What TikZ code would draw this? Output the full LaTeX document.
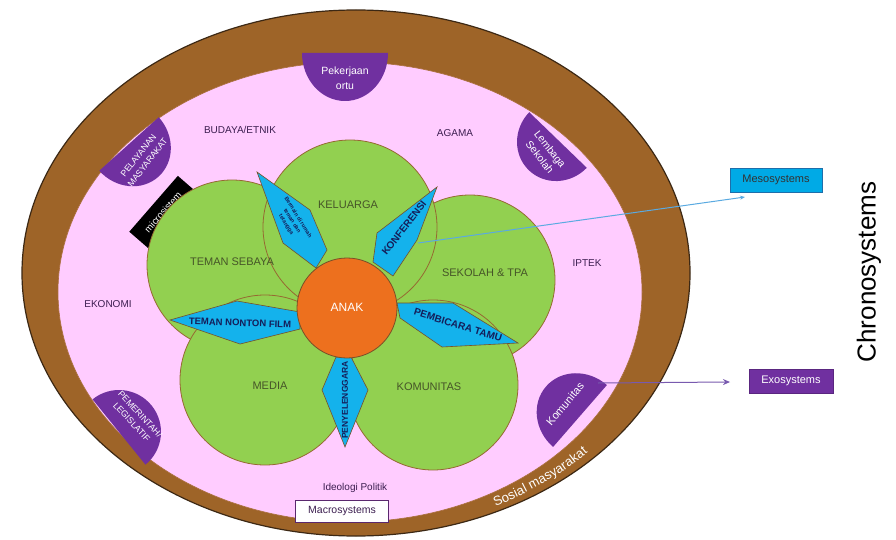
\documentclass[tikz,border=0pt]{standalone}
\usepackage{fontspec}
\setmainfont{Liberation Sans}
\usetikzlibrary{calc,arrows.meta,decorations.text}
\definecolor{brownband}{RGB}{158,100,40}
\definecolor{outerline}{RGB}{60,40,20}
\definecolor{pinkbg}{RGB}{255,204,255}
\definecolor{pinkline}{RGB}{170,110,60}
\definecolor{greenfill}{RGB}{146,208,80}
\definecolor{greenline}{RGB}{150,105,50}
\definecolor{orangefill}{RGB}{237,112,30}
\definecolor{petalblue}{RGB}{20,178,236}
\definecolor{petalline}{RGB}{120,80,40}
\definecolor{tabpurple}{RGB}{112,48,160}
\definecolor{labtext}{RGB}{60,30,80}
\definecolor{circtext}{RGB}{70,85,40}
\definecolor{petaltext}{RGB}{20,30,90}
\definecolor{mesofill}{RGB}{0,170,230}
\definecolor{mesoline}{RGB}{30,110,170}
\definecolor{mesoarrow}{RGB}{90,170,225}
\definecolor{exoarrow}{RGB}{120,90,175}
\definecolor{macroline}{RGB}{90,40,110}
\newcommand{\tabD}[5]{\fill[tabpurple, shift={(#1,#2)}, rotate=#3] (-#4,0) arc[start angle=180, end angle=0, x radius=#4, y radius=#5] -- cycle;}
\begin{document}
\begin{tikzpicture}[x=1pt,y=-1pt,
  lab/.style={inner sep=0, text=labtext, font=\fontsize{10}{12}\selectfont},
  circlab/.style={inner sep=0, text=circtext, font=\fontsize{11}{13}\selectfont},
  petallab/.style={inner sep=0, text=petaltext, font=\bfseries\fontsize{10}{12}\selectfont},
  tablab/.style={inner sep=0, text=white, align=center, font=\fontsize{10}{13}\selectfont},
  greencirc/.style={fill=greenfill, draw=greenline, line width=0.8},
  petalshape/.style={fill=petalblue, draw=petalline, line width=0.6},
  boxlab/.style={inner sep=0, minimum height=24, font=\fontsize{11}{13}\selectfont}]
\useasboundingbox (0,0) rectangle (896,540);
\fill[white] (0,0) rectangle (896,540);
% outer band and inner field
\filldraw[fill=brownband, draw=outerline, line width=1.2] (356,273) ellipse [x radius=334, y radius=263];
\filldraw[fill=pinkbg, draw=pinkline, line width=0.6] (350,292) ellipse [x radius=292, y radius=230];
% text along the band
\path[decorate, decoration={text along path, text align=center, raise=-4.5pt,
  text={|\color{white}\fontsize{13}{15}\selectfont|Sosial masyarakat}}]
  (478,509) .. controls (525,490) and (560,472) .. (598,438);
% purple tabs
\tabD{345}{53}{0}{43}{48}
\tabD{129}{144}{42}{40}{44}
\tabD{558}{140}{-44}{40}{42}
\tabD{119}{432}{129}{42}{42}
\tabD{580}{416}{229}{41}{45}
\node[tablab, font=\fontsize{10.5}{15}\selectfont] (ortu) at (345,78) {Pekerjaan\\ortu};
\node[tablab, rotate=52, font=\fontsize{8.8}{11.5}\selectfont] (pelayanan) at (143,159) {PELAYANAN\\MASYARAKAT};
\node[tablab, rotate=-52, font=\fontsize{10.5}{13}\selectfont] (lembaga) at (545,153) {Lembaga\\Sekolah};
\node[tablab, rotate=-47, font=\fontsize{8.8}{11.5}\selectfont] (pemerintah) at (136,418) {PEMERINTAH/\\LEGISLATIF};
\node[tablab, rotate=50, font=\fontsize{11}{13}\selectfont] (komtab) at (565,404) {Komunitas};
% microsistem label
\node[fill=black, text=white, rotate=49, minimum width=74, minimum height=25, inner sep=0, font=\fontsize{9.5}{11}\selectfont] (micro) at (163,212) {microsistem};
% labels in the pink field
\node[lab] (budaya) at (240,130) {BUDAYA/ETNIK};
\node[lab] (agama) at (455,133) {AGAMA};
\node[lab] (iptek) at (587,263) {IPTEK};
\node[lab] (ekonomi) at (108,304) {EKONOMI};
\node[lab] (ideologi) at (355,488) {Ideologi Politik};
\node[draw=macroline, fill=white, line width=1, minimum width=93, minimum height=22, inner sep=0, text=labtext, font=\fontsize{10.5}{12}\selectfont] (macro) at (342,511) {Macrosystems};
% green circles
\filldraw[greencirc] (232,265) circle [radius=85];
\filldraw[greencirc] (470,280) circle [radius=85];
\filldraw[greencirc] (350,227) circle [radius=87];
\filldraw[greencirc] (265,380) circle [radius=85];
\filldraw[greencirc] (433,385) circle [radius=85];
\node[circlab] (keluarga) at (348,205) {KELUARGA};
\node[circlab] (teman) at (232,262) {TEMAN SEBAYA};
\node[circlab] (sekolah) at (485,273) {SEKOLAH \& TPA};
\node[circlab] (media) at (270,386) {MEDIA};
\node[circlab] (komunitas) at (429,387) {KOMUNITAS};
% blue petals
\filldraw[petalshape] (257,172) -- (310,210) -- (327,250) -- (316,268) -- (283,243) -- cycle;
\filldraw[petalshape] (437,187) -- (417,240) -- (393,276) -- (373,262) -- (377,233) -- cycle;
\filldraw[petalshape] (170,320) -- (237,301) -- (300,312) -- (300,329) -- (240,344) -- cycle;
\filldraw[petalshape] (397,303) -- (453,303) -- (518,343) -- (442,347) -- (400,318) -- cycle;
\filldraw[petalshape] (336,357) -- (351,357) -- (368,390) -- (345,447) -- (322,390) -- cycle;
\node[petallab, rotate=-58, align=center, font=\bfseries\fontsize{5.5}{7}\selectfont] (ulpetal) at (292,221) {Bermain di rumah\\teman dan\\tetangga};
\node[petallab, rotate=52, font=\bfseries\fontsize{10}{12}\selectfont] (konferensi) at (404,228) {KONFERENSI};
\node[petallab, rotate=-2, font=\bfseries\fontsize{9.5}{12}\selectfont] (nonton) at (240,323) {TEMAN NONTON FILM};
\node[petallab, rotate=-17, font=\bfseries\fontsize{10}{12}\selectfont] (pembicara) at (458,325) {PEMBICARA TAMU};
\node[petallab, rotate=90, font=\bfseries\fontsize{8.5}{10}\selectfont] (penyelenggara) at (345,400) {PENYELENGGARA};
% centre
\filldraw[fill=orangefill, draw=petalline, line width=0.8] (347,308) circle [radius=50];
\node[inner sep=0, text=white, font=\fontsize{12}{14}\selectfont] (anak) at (347,307) {ANAK};
% system boxes and connectors
\node[boxlab, draw=mesoline, fill=mesofill, line width=0.8, minimum width=92, text=black!80] (meso) at (776,180) {Mesosystems};
\node[boxlab, draw=tabpurple!80!black, fill=tabpurple, minimum width=84, text=white] (exo) at (791,381) {Exosystems};
\node[rotate=90, inner sep=0, font=\fontsize{26}{30}\selectfont] (chrono) at (869,272) {Chronosystems};
\coordinate (mstart) at (418,243);
\coordinate (mend) at (745,197);
\coordinate (estart) at (598,383);
\coordinate (eend) at (730,382);
\draw[mesoarrow, line width=1, -{Stealth[length=5pt,width=4pt]}] (mstart) -- (mend);
\draw[exoarrow, line width=1, -{Stealth[length=7pt,width=6pt]}] (estart) -- (eend);
\end{tikzpicture}
\end{document}
